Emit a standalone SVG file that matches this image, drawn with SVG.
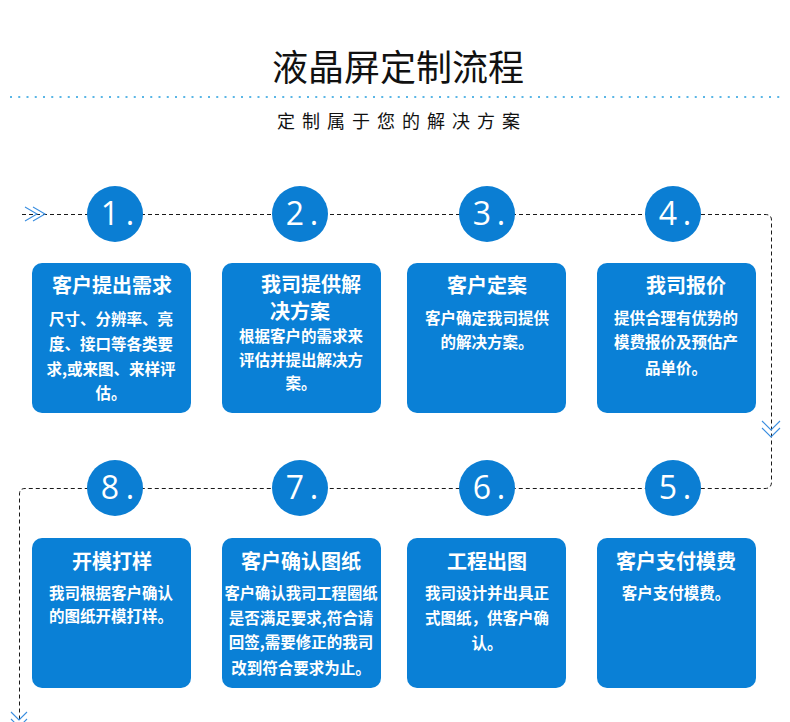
<svg xmlns="http://www.w3.org/2000/svg" width="790" height="722" viewBox="0 0 790 722">
<defs>
<style>
.head{font-family:"Noto Sans CJK SC","Noto Sans",sans-serif;fill:#111;}
.box{fill:#0a80d6;}
.circ{fill:#0b7ed3;}
.num{font-family:"Open Sans","Noto Sans",sans-serif;font-weight:400;font-size:32px;fill:#fff;text-anchor:middle;}
.t{font-family:"Noto Sans CJK SC","Noto Sans",sans-serif;font-weight:700;font-size:20px;fill:#fff;text-anchor:middle;dominant-baseline:central;}
.b{font-family:"Noto Sans CJK SC","Noto Sans",sans-serif;font-weight:700;font-size:15.5px;fill:#fff;text-anchor:middle;dominant-baseline:central;}
.dash{fill:none;stroke:#1a1a1a;stroke-width:1;stroke-dasharray:4 3;}
.chev{fill:none;stroke:#3a8ee0;stroke-width:1.1;}
</style>
</defs>
<rect width="790" height="722" fill="#fff"/>
<g id="header">
<text class="head" x="398" y="65" font-size="36" text-anchor="middle" dominant-baseline="central">液晶屏定制流程</text>
<line x1="10" y1="97" x2="782" y2="97" stroke="#5ab6e6" stroke-width="2" stroke-dasharray="2 6.25"/>
<text class="head" x="402" y="120" font-size="18" letter-spacing="7" text-anchor="middle" dominant-baseline="central">定制属于您的解决方案</text>
</g>
<g id="connectors">
<path class="dash" d="M22 214.5 H765 Q771.5 214.5 771.5 220 V482 Q771.5 488.5 765 488.5 H25 Q19.5 488.5 19.5 494 V722"/>
<polyline class="chev" points="25,207 37,214 25,221"/>
<polyline class="chev" points="33,207 45,214 33,221"/>
<polyline class="chev" points="762,421 771,430 780,421"/>
<polyline class="chev" points="762,428 771,437 780,428"/>
<polyline class="chev" points="11,712 19,720 27,712"/>
<polyline class="chev" points="11,719 19,727 27,719"/>
</g>
<g id="step1">
<circle class="circ" cx="115" cy="214" r="28"/>
<text class="num" y="225"><tspan x="110">1</tspan><tspan x="130">.</tspan></text>
<rect class="box" x="32" y="263" width="159" height="150" rx="10"/>
<text class="t" x="112" y="284">客户提出需求</text>
<text class="b" x="111" y="318">尺寸、分辨率、亮</text>
<text class="b" x="111" y="343">度、接口等各类要</text>
<text class="b" x="111" y="368">求,或来图、来样评</text>
<text class="b" x="111" y="392">估。</text>
</g>
<g id="step2">
<circle class="circ" cx="300" cy="214" r="28"/>
<text class="num" y="225"><tspan x="295">2</tspan><tspan x="314">.</tspan></text>
<rect class="box" x="222" y="263" width="159" height="150" rx="10"/>
<text class="t" font-size="19.5"><tspan x="311" y="283">我司提供解</tspan><tspan x="300" y="310">决方案</tspan></text>
<text class="b" x="301" y="335">根据客户的需求来</text>
<text class="b" x="301" y="359">评估并提出解决方</text>
<text class="b" x="301" y="382">案。</text>
</g>
<g id="step3">
<circle class="circ" cx="487" cy="214" r="28"/>
<text class="num" y="225"><tspan x="482">3</tspan><tspan x="501">.</tspan></text>
<rect class="box" x="407" y="263" width="159" height="150" rx="10"/>
<text class="t" x="487" y="284">客户定案</text>
<text class="b" x="487" y="317">客户确定我司提供</text>
<text class="b" x="487" y="341">的解决方案。</text>
</g>
<g id="step4">
<circle class="circ" cx="673" cy="214" r="28"/>
<text class="num" y="225"><tspan x="668">4</tspan><tspan x="687">.</tspan></text>
<rect class="box" x="597" y="263" width="159" height="150" rx="10"/>
<text class="t" x="686" y="284">我司报价</text>
<text class="b" x="676" y="317">提供合理有优势的</text>
<text class="b" x="676" y="341">模费报价及预估产</text>
<text class="b" x="676" y="367">品单价。</text>
</g>
<g id="step5">
<circle class="circ" cx="673" cy="488" r="28"/>
<text class="num" y="499"><tspan x="668">5</tspan><tspan x="687">.</tspan></text>
<rect class="box" x="597" y="538" width="159" height="150" rx="10"/>
<text class="t" x="676" y="560">客户支付模费</text>
<text class="b" x="676" y="592">客户支付模费。</text>
</g>
<g id="step6">
<circle class="circ" cx="487" cy="488" r="28"/>
<text class="num" y="499"><tspan x="482">6</tspan><tspan x="501">.</tspan></text>
<rect class="box" x="407" y="538" width="159" height="150" rx="10"/>
<text class="t" x="487" y="560">工程出图</text>
<text class="b" x="487" y="592">我司设计并出具正</text>
<text class="b" x="487" y="617">式图纸，供客户确</text>
<text class="b" x="487" y="642">认。</text>
</g>
<g id="step7">
<circle class="circ" cx="300" cy="488" r="28"/>
<text class="num" y="499"><tspan x="295">7</tspan><tspan x="314">.</tspan></text>
<rect class="box" x="222" y="538" width="159" height="150" rx="10"/>
<text class="t" x="301" y="560">客户确认图纸</text>
<text class="b" x="301" y="592" textLength="153" lengthAdjust="spacingAndGlyphs">客户确认我司工程圈纸</text>
<text class="b" x="301" y="617">是否满足要求,符合请</text>
<text class="b" x="301" y="641">回签,需要修正的我司</text>
<text class="b" x="301" y="667">改到符合要求为止。</text>
</g>
<g id="step8">
<circle class="circ" cx="115" cy="488" r="28"/>
<text class="num" y="499"><tspan x="110">8</tspan><tspan x="130">.</tspan></text>
<rect class="box" x="32" y="538" width="159" height="150" rx="10"/>
<text class="t" x="112" y="560">开模打样</text>
<text class="b" x="111" y="592">我司根据客户确认</text>
<text class="b" x="111" y="615">的图纸开模打样。</text>
</g>
</svg>
